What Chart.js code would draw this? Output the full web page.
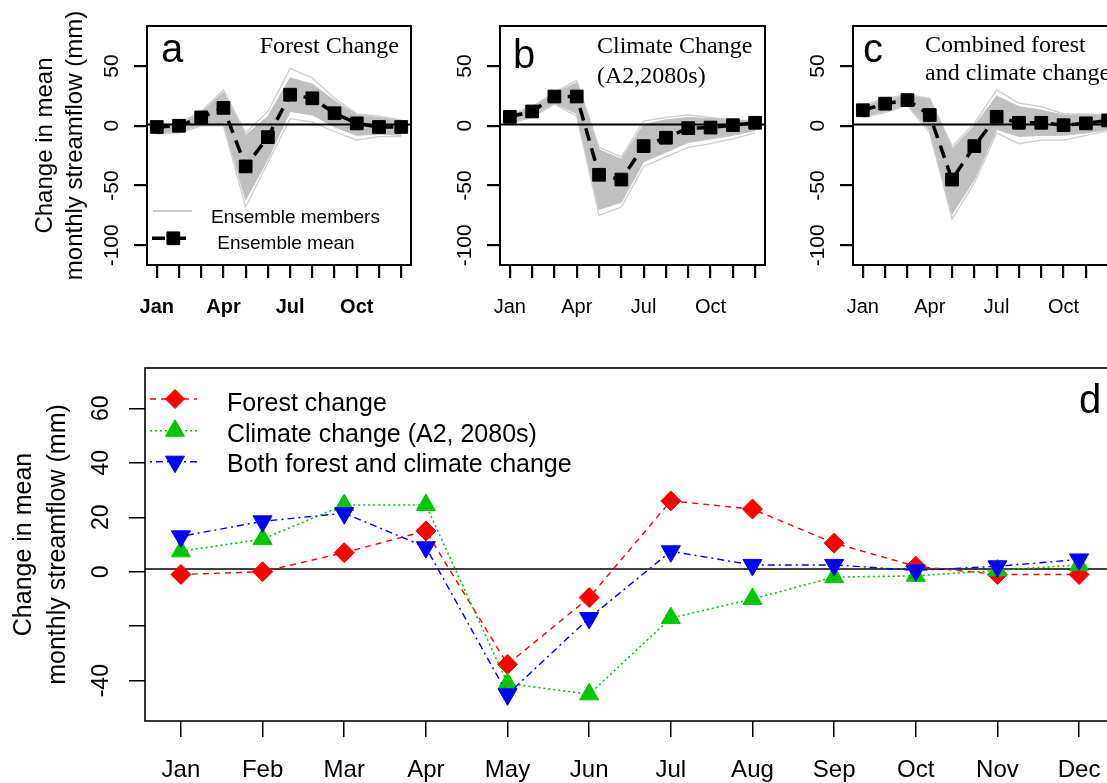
<!DOCTYPE html>
<html>
<head>
<meta charset="utf-8">
<script src="https://cdn.jsdelivr.net/npm/chart.js@4.4.1/dist/chart.umd.min.js"></script>
<style>
html, body { margin: 0; padding: 0; background: #fff; overflow: hidden; width: 1107px; height: 783px; position: relative; }
.panel { position: absolute; overflow: visible; }
.panel canvas { display: block; }
</style>
</head>
<body>
<div class="panel" id="wrapA"><canvas id="panelA"></canvas></div>
<div class="panel" id="wrapB"><canvas id="panelB"></canvas></div>
<div class="panel" id="wrapC"><canvas id="panelC"></canvas></div>
<div class="panel" id="wrapD"><canvas id="panelD"></canvas></div>
<script>
const SANS = '"Liberation Sans", Arial, Helvetica, sans-serif';
const SERIF = '"Liberation Serif", "Times New Roman", serif';

// axis labels
const months = ['Jan', 'Feb', 'Mar', 'Apr', 'May', 'Jun', 'Jul', 'Aug', 'Sep', 'Oct', 'Nov', 'Dec'];
const monthsTop = ['Jan', '', '', 'Apr', '', '', 'Jul', '', '', 'Oct', '', ''];
const topYTicks = [-100, -50, 0, 50];
const topYLabels = ['-100', '-50', '0', '50'];
const bottomYTicks = [-40, -20, 0, 20, 40, 60];
const bottomYLabels = ['-40', '', '0', '20', '40', '60'];
const refLevel = 1;

// ensemble means, change in mean monthly streamflow (mm)
const forestMean = [-1, 0, 7, 15, -34, -9.5, 26, 23, 10.5, 2, -1, -1];
const climateMean = [7.5, 12, 24.5, 24.5, -41, -45, -17, -10, -2, -1.5, 0.5, 2.5];
const bothMean = [13, 18.5, 21.5, 9, -45, -17, 7.5, 2.5, 2.5, 0.5, 2, 4.5];

// ensemble spread, forest change (panel a)
const forestCoreHigh = [0, 1, 11, 28, -8, 8, 40, 35, 21, 9, 7, 4];
const forestCoreLow = [-6, -5, 1, 2, -62, -28, 12, 9, -1, -8, -7, -8];
const forestOuterHigh = [1, 2, 12, 30, -6, 12, 48, 40, 23, 10, 8, 5];
const forestOuterLow = [-7, -6, 0, 0, -68, -31, 6, 3, -5, -12, -9, -9];

// ensemble spread, climate change (panel b)
const climateCoreHigh = [9, 15, 27, 36, -20, -28, 1, 5, 7, 6, 5, 3];
const climateCoreLow = [3, 8, 19, 10, -70, -64, -30, -22, -14, -11, -8, -4];
const climateOuterHigh = [10, 16, 28, 38, -18, -26, 4, 7, 9, 7, 5, 4];
const climateOuterLow = [2, 7, 18, 8, -75, -68, -34, -26, -18, -15, -11, -6];

// ensemble spread, combined change (panel c)
const bothCoreHigh = [16, 22, 25, 22, -19, 0, 25, 16, 13, 9, 9, 8];
const bothCoreLow = [8, 12, 18, -4, -74, -45, -3, -9, -8, -8, -6, -3];
const bothOuterHigh = [17, 23, 26, 23, -17, 2, 30, 19, 16, 10, 10, 9];
const bothOuterLow = [7, 11, 17, -6, -78, -48, -6, -15, -12, -12, -8, -4];

function pts(values) {
    return values.map((v, i) => ({x: i + 1, y: v}));
}

function drawMarker(ctx, style, radius, rotation, color, x, y) {
    ctx.fillStyle = color;
    ctx.strokeStyle = color;
    ctx.lineWidth = 1;
    ctx.setLineDash([]);
    Chart.helpers.drawPoint(ctx, {pointStyle: style, radius: radius, rotation: rotation, borderWidth: 1}, x, y);
}

function drawRef(chart, o) {
    const {ctx, chartArea: a} = chart;
    const y0 = chart.scales.y.getPixelForValue(refLevel);
    ctx.save();
    ctx.strokeStyle = '#000';
    ctx.lineWidth = o.refWidth;
    ctx.beginPath();
    ctx.moveTo(a.left, y0);
    ctx.lineTo(a.right, y0);
    ctx.stroke();
    ctx.restore();
}

const decorPlugin = {
    id: 'decor',
    beforeDatasetsDraw(chart, args, o) {
        if (!o.refOnTop) drawRef(chart, o);
    },
    afterDatasetsDraw(chart, args, o) {
        if (o.refOnTop) drawRef(chart, o);
    },
    afterDraw(chart, args, o) {
        const {ctx, chartArea: a} = chart;
        ctx.save();
        ctx.strokeStyle = '#000';
        ctx.lineWidth = o.boxWidth;
        ctx.setLineDash([]);
        ctx.strokeRect(a.left, a.top, a.right - a.left, a.bottom - a.top);

        ctx.fillStyle = '#000';
        ctx.textBaseline = 'alphabetic';
        (o.texts || []).forEach(t => {
            ctx.font = t.font;
            ctx.textAlign = t.align || 'left';
            ctx.fillText(t.text, a.left + t.dx, a.top + t.dy);
        });

        (o.legend || []).forEach(it => {
            ctx.save();
            ctx.strokeStyle = it.color;
            ctx.lineWidth = it.width;
            ctx.setLineDash(it.dash || []);
            ctx.beginPath();
            ctx.moveTo(a.left + it.x0, a.top + it.dy);
            ctx.lineTo(a.left + it.x1, a.top + it.dy);
            ctx.stroke();
            if (it.marker) {
                drawMarker(ctx, it.marker, it.radius, it.rotation || 0, it.color, a.left + it.mx, a.top + it.dy);
            }
            ctx.fillStyle = '#000';
            ctx.font = it.font;
            ctx.textAlign = 'left';
            ctx.fillText(it.text, a.left + it.tx, a.top + it.ty);
            ctx.restore();
        });
        ctx.restore();
    }
};

function bandSets(mean, coreLow, coreHigh, outerLow, outerHigh) {
    return [
        {data: pts(mean), borderColor: '#000', borderWidth: 3.5, borderDash: [13, 8],
         pointStyle: 'rect', pointRadius: 9, pointBackgroundColor: '#000', pointBorderColor: '#000',
         pointBorderWidth: 1, fill: false, order: 0},
        {data: pts(coreLow), borderColor: '#C0C0C0', borderWidth: 1, pointRadius: 0, fill: false, order: 2},
        {data: pts(coreHigh), borderColor: '#C0C0C0', borderWidth: 1, pointRadius: 0, fill: 1,
         backgroundColor: '#C0C0C0', order: 2},
        {data: pts(outerLow), borderColor: '#CDCDCD', borderWidth: 1.3, pointRadius: 0, fill: false, order: 3},
        {data: pts(outerHigh), borderColor: '#CDCDCD', borderWidth: 1.3, pointRadius: 0, fill: false, order: 3}
    ];
}

function noPad(s) {
    s.paddingLeft = 0;
    s.paddingRight = 0;
    s.paddingTop = 0;
    s.paddingBottom = 0;
}

function makePanel(id, geo, datasets, ax) {
    const cv = document.getElementById(id);
    const wrap = cv.parentNode;
    wrap.style.left = geo.x + 'px';
    wrap.style.top = geo.y + 'px';
    wrap.style.width = geo.w + 'px';
    wrap.style.height = geo.h + 'px';
    cv.width = geo.w;
    cv.height = geo.h;
    cv.style.width = geo.w + 'px';
    cv.style.height = geo.h + 'px';

    return new Chart(cv, {
        type: 'line',
        data: {datasets: datasets},
        options: {
            responsive: false,
            maintainAspectRatio: false,
            animation: false,
            events: [],
            layout: {autoPadding: false, padding: {top: geo.padTop, right: geo.padRight, left: 0, bottom: 0}},
            plugins: {
                legend: {display: false},
                tooltip: {enabled: false},
                decor: ax.decor
            },
            scales: {
                x: {
                    type: 'linear',
                    min: 0.56,
                    max: 12.44,
                    afterBuildTicks: s => { s.ticks = ax.xLabels.map((l, i) => ({value: i + 1})); },
                    afterFit: s => { s.height = geo.axisH; noPad(s); },
                    border: {display: false},
                    grid: {drawOnChartArea: false, drawTicks: true, tickLength: ax.tickLen,
                           lineWidth: ax.tickWidth, color: '#000'},
                    ticks: {autoSkip: false, maxRotation: 0, minRotation: 0, color: '#000',
                            padding: ax.xPad, font: {family: SANS, size: ax.xSize, weight: ax.xWeight},
                            callback: (v, i) => ax.xLabels[i]}
                },
                y: {
                    type: 'linear',
                    min: ax.yMin,
                    max: ax.yMax,
                    afterBuildTicks: s => { s.ticks = ax.yTicks.map(v => ({value: v})); },
                    afterFit: s => { s.width = geo.axisW; noPad(s); },
                    border: {display: false},
                    grid: {drawOnChartArea: false, drawTicks: true, tickLength: ax.tickLen,
                           lineWidth: ax.tickWidth, color: '#000'},
                    ticks: {autoSkip: false, minRotation: 90, maxRotation: 90, crossAlign: 'center',
                            color: '#000', padding: ax.yPad, font: {family: SANS, size: ax.ySize},
                            callback: (v, i) => ax.yLabels[i]},
                    title: ax.yTitle || {display: false}
                }
            }
        },
        plugins: [decorPlugin]
    });
}

const topAxes = {
    xLabels: monthsTop, yTicks: topYTicks, yLabels: topYLabels,
    yMin: -116.5, yMax: 83.5, tickLen: 13, tickWidth: 2.2,
    xPad: 17, xSize: 20, xWeight: 'normal', yPad: 1, ySize: 21
};

// panel a: forest change
makePanel('panelA',
    {x: 0, y: 0, w: 419, h: 325, axisW: 147, axisH: 60, padTop: 26, padRight: 8},
    bandSets(forestMean, forestCoreLow, forestCoreHigh, forestOuterLow, forestOuterHigh),
    Object.assign({}, topAxes, {
        xWeight: 'bold',
        yTitle: {display: true, text: ['Change in mean', 'monthly streamflow (mm)'], color: '#000',
                 font: {family: SANS, size: 24, lineHeight: 1.25}, padding: {top: 30, bottom: 0}},
        decor: {
            refWidth: 2, boxWidth: 2, refOnTop: true,
            texts: [
                {text: 'a', dx: 14, dy: 36, font: '40px ' + SANS},
                {text: 'Forest Change', dx: 252, dy: 27, align: 'right', font: '24px ' + SERIF}
            ],
            legend: [
                {text: 'Ensemble members', color: '#C0C0C0', width: 1.5, x0: 6, x1: 45, dy: 185,
                 tx: 64, ty: 196.7, font: '19px ' + SANS},
                {text: 'Ensemble mean', color: '#000', width: 3.5, dash: [13, 8], x0: 5, x1: 46, dy: 212.3,
                 marker: 'rect', radius: 9, mx: 26.3, tx: 70.3, ty: 223.3, font: '19px ' + SANS}
            ]
        }
    }));

// panel b: climate change
makePanel('panelB',
    {x: 380, y: 0, w: 393, h: 325, axisW: 120, axisH: 60, padTop: 26, padRight: 8},
    bandSets(climateMean, climateCoreLow, climateCoreHigh, climateOuterLow, climateOuterHigh),
    Object.assign({}, topAxes, {
        decor: {
            refWidth: 2, boxWidth: 2, refOnTop: true,
            texts: [
                {text: 'b', dx: 13, dy: 42, font: '40px ' + SANS},
                {text: 'Climate Change', dx: 97, dy: 27, font: '24px ' + SERIF},
                {text: '(A2,2080s)', dx: 97, dy: 57, font: '24px ' + SERIF}
            ]
        }
    }));

// panel c: combined forest and climate change
makePanel('panelC',
    {x: 733, y: 0, w: 385, h: 325, axisW: 120, axisH: 60, padTop: 26, padRight: 0},
    bandSets(bothMean, bothCoreLow, bothCoreHigh, bothOuterLow, bothOuterHigh),
    Object.assign({}, topAxes, {
        decor: {
            refWidth: 2, boxWidth: 2, refOnTop: true,
            texts: [
                {text: 'c', dx: 10, dy: 36, font: '40px ' + SANS},
                {text: 'Combined forest', dx: 72, dy: 26, font: '24px ' + SERIF},
                {text: 'and climate change', dx: 72, dy: 54, font: '24px ' + SERIF}
            ]
        }
    }));

// panel d: the three ensemble means together
makePanel('panelD',
    {x: 0, y: 340, w: 1115, h: 443, axisW: 145, axisH: 62, padTop: 28, padRight: 0},
    [
        {data: pts(bothMean), borderColor: '#0000FF', borderWidth: 1.4, borderDash: [2, 4, 7, 4],
         pointStyle: 'triangle', pointRotation: 180, pointRadius: 11, pointBackgroundColor: '#0000FF',
         pointBorderColor: '#0000FF', pointBorderWidth: 1, fill: false, order: 0},
        {data: pts(climateMean), borderColor: '#00C800', borderWidth: 1.6, borderDash: [2, 3],
         pointStyle: 'triangle', pointRadius: 11, pointBackgroundColor: '#00C800',
         pointBorderColor: '#00C800', pointBorderWidth: 1, fill: false, order: 1},
        {data: pts(forestMean), borderColor: '#FF0000', borderWidth: 1.4, borderDash: [6, 5],
         pointStyle: 'rectRot', pointRadius: 10, pointBackgroundColor: '#FF0000',
         pointBorderColor: '#FF0000', pointBorderWidth: 1, fill: false, order: 2}
    ],
    {
        xLabels: months, yTicks: bottomYTicks, yLabels: bottomYLabels,
        yMin: -54.8, yMax: 74.8, tickLen: 16, tickWidth: 1.5,
        xPad: 19, xSize: 24, xWeight: 'normal', yPad: 11, ySize: 23,
        yTitle: {display: true, text: ['Change in mean', 'monthly streamflow (mm)'], color: '#000',
                 font: {family: SANS, size: 25, lineHeight: 1.34}, padding: {top: 7.5, bottom: 0}},
        decor: {
            refWidth: 1.6, boxWidth: 1.6, refOnTop: false,
            texts: [
                {text: 'd', dx: 934, dy: 45, font: '40px ' + SANS}
            ],
            legend: [
                {text: 'Forest change', color: '#FF0000', width: 1.4, dash: [6, 5], x0: 5, x1: 52, dy: 31,
                 marker: 'rectRot', radius: 9.5, mx: 30, tx: 82, ty: 43, font: '25px ' + SANS},
                {text: 'Climate change (A2, 2080s)', color: '#00C800', width: 1.6, dash: [2, 3], x0: 5, x1: 52,
                 dy: 62.7, marker: 'triangle', radius: 11, mx: 30, tx: 82, ty: 73.7, font: '25px ' + SANS},
                {text: 'Both forest and climate change', color: '#0000FF', width: 1.4, dash: [2, 4, 7, 4],
                 x0: 5, x1: 52, dy: 93.7, marker: 'triangle', radius: 11, rotation: 180, mx: 30, tx: 82,
                 ty: 104.3, font: '25px ' + SANS}
            ]
        }
    });
</script>
</body>
</html>
